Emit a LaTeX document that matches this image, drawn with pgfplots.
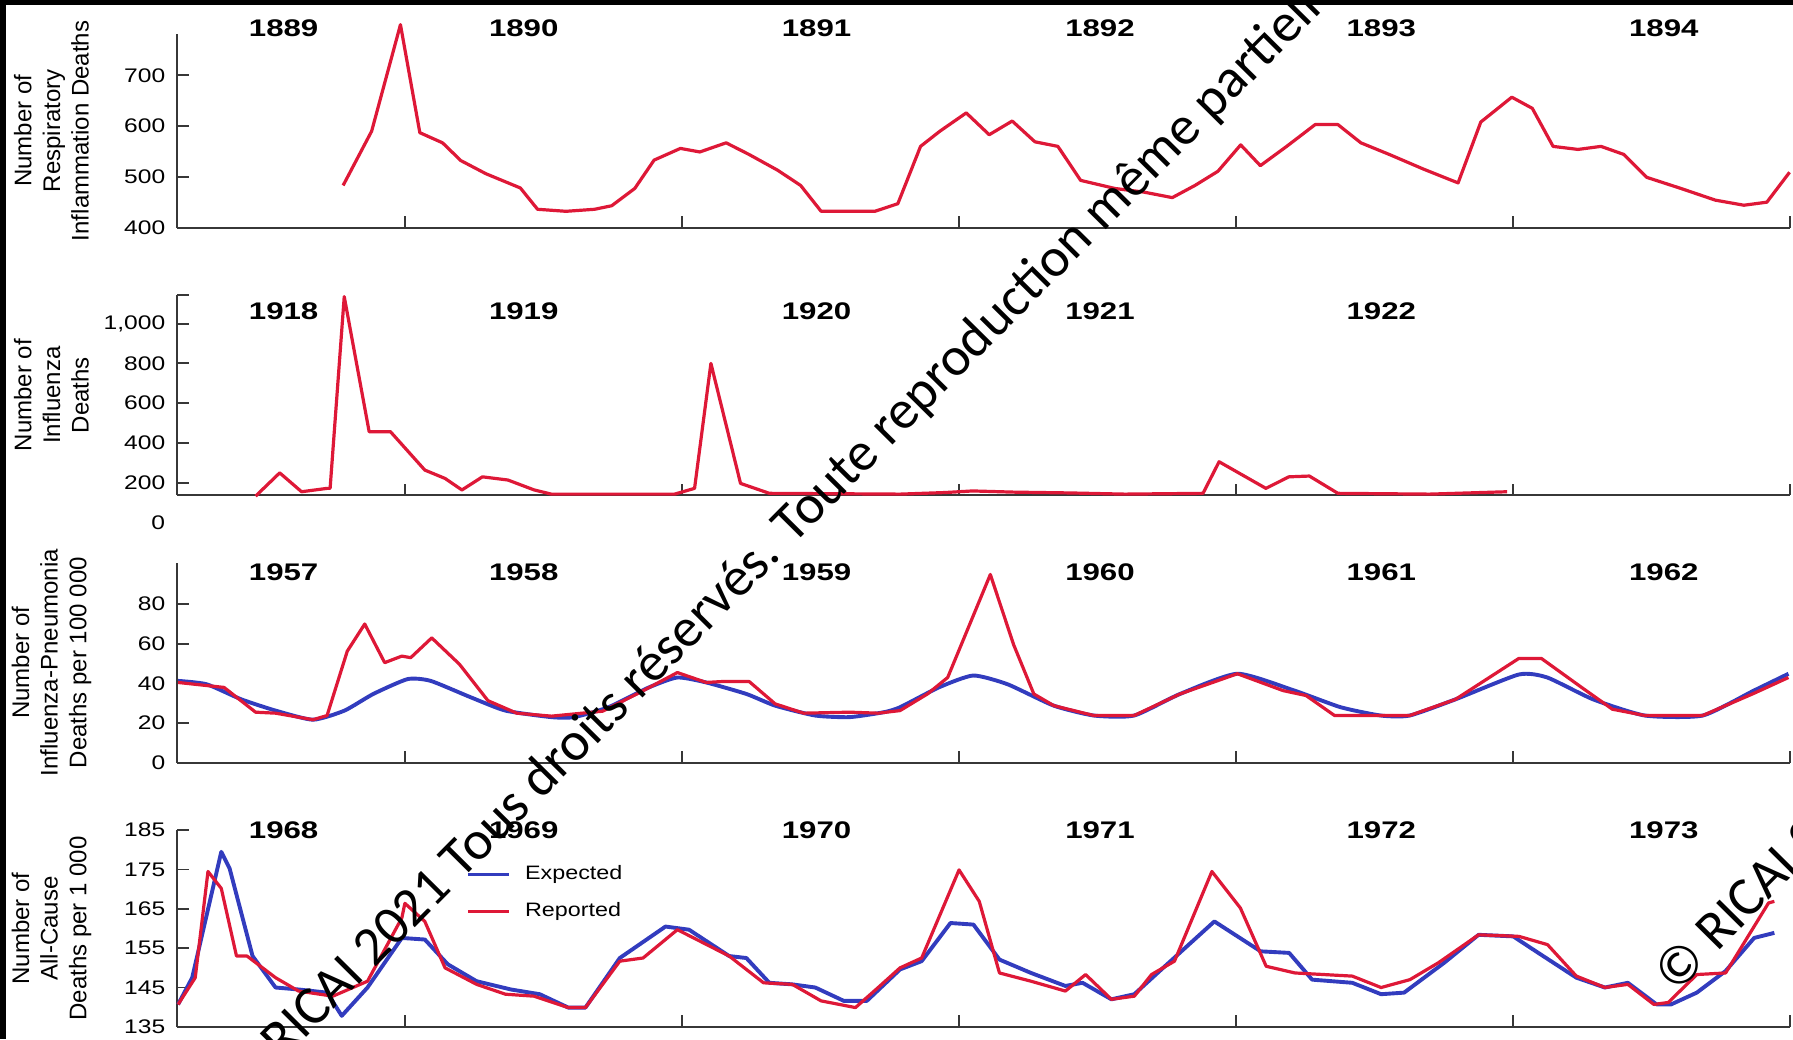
\documentclass[border=0pt]{standalone}
\usepackage{graphicx}
\usepackage{pgfplots}
\pgfplotsset{compat=1.18}
\usepackage{fontspec}
\setmainfont{Liberation Sans}
\newfontfamily\wmfont{Carlito}
\definecolor{repred}{RGB}{222,24,55}
\definecolor{expblue}{RGB}{50,60,190}
\definecolor{axgray}{RGB}{55,55,55}
\tikzset{
  yr/.style={font=\fontsize{10.5}{11}\selectfont\bfseries, xscale=1.3, anchor=center},
  redline/.style={color=repred, line width=1.4pt, line join=round},
  blueline/.style={color=expblue, line width=1.7pt, line join=round},
}
\pgfplotsset{
  panel/.style={
    scale only axis, width=705pt,
    xmin=0.178, xmax=6.0,
    axis x line=bottom, axis y line=left,
    axis line style={-, line width=0.9pt, draw=axgray},
    xtick={1,2,3,4,5,6}, xticklabels={},
    tick align=inside, major tick length=5pt,
    tick style={line width=0.8pt, draw=axgray},
    clip=false,
    /pgf/number format/assume math mode=true,
    /pgf/number format/1000 sep={,},
    yticklabel style={font=\fontsize{8.6}{9}\selectfont, xscale=1.25, inner sep=0.5pt, xshift=-3.5pt},
    ylabel style={at={(axis description cs:-0.078,0.5)}, anchor=center, align=center, font=\fontsize{10.5}{12.5}\selectfont},
  },
}
\begin{document}
\begin{tikzpicture}
\path[use as bounding box] (0,0) rectangle (784pt,454.5pt);
% Panel 1
\begin{axis}[panel, at={(77.5pt,355pt)}, anchor=south west, height=84.5pt,
  ymin=400, ymax=781, ytick={400,500,600,700},
  ylabel={Number of\\Respiratory\\Inflammation Deaths}]
\addplot[redline] coordinates {(0.777,483)(0.880,590)(0.984,800)(1.054,587)(1.136,567)(1.202,532)(1.293,506)(1.417,478)(1.479,436)(1.582,432)(1.685,436)(1.747,443)(1.830,477)(1.900,533)(1.995,556)(2.065,549)(2.160,567)(2.243,544)(2.346,513)(2.429,483)(2.503,432)(2.594,432)(2.697,432)(2.780,447)(2.862,560)(2.932,590)(3.027,626)(3.110,583)(3.193,610)(3.275,569)(3.358,560)(3.440,493)(3.564,477)(3.667,470)(3.771,459)(3.853,483)(3.936,511)(4.018,563)(4.089,522)(4.184,560)(4.287,603)(4.369,603)(4.452,567)(4.555,544)(4.679,515)(4.803,488)(4.885,608)(4.997,657)(5.071,635)(5.146,560)(5.236,554)(5.319,560)(5.402,544)(5.484,499)(5.608,477)(5.732,454)(5.835,444)(5.918,450)(6.000,509)};
\node[yr] at (axis description cs:0.066,1.03) {1889};
\node[yr] at (axis description cs:0.2149,1.03) {1890};
\node[yr] at (axis description cs:0.3965,1.03) {1891};
\node[yr] at (axis description cs:0.5723,1.03) {1892};
\node[yr] at (axis description cs:0.7468,1.03) {1893};
\node[yr] at (axis description cs:0.922,1.03) {1894};
\end{axis}
% Panel 2
\begin{axis}[panel, at={(77.5pt,238pt)}, anchor=south west, height=87.5pt,
  ymin=137, ymax=1144, ytick={200,400,600,800,1000},
  extra y ticks={1144}, extra y tick labels={},
  ylabel={Number of\\Influenza\\Deaths}]
\addplot[redline] coordinates {(0.461,132)(0.548,249)(0.627,154)(0.719,171)(0.730,171)(0.781,1136)(0.871,456)(0.948,456)(1.072,263)(1.145,221)(1.206,163)(1.280,229)(1.372,213)(1.467,163)(1.529,142)(1.974,142)(2.046,171)(2.105,800)(2.212,196)(2.316,146)(2.788,142)(2.950,150)(3.050,158)(3.200,152)(3.400,148)(3.600,142)(3.882,146)(3.940,305)(4.109,171)(4.192,229)(4.266,233)(4.369,146)(4.700,142)(4.980,154)};
\node[font=\fontsize{8.6}{9}\selectfont, xscale=1.25, inner sep=0.5pt, anchor=east] at ([xshift=-4.5pt]axis cs:0.178,0) {0};
\node[yr] at (axis description cs:0.066,0.92) {1918};
\node[yr] at (axis description cs:0.2149,0.92) {1919};
\node[yr] at (axis description cs:0.3965,0.92) {1920};
\node[yr] at (axis description cs:0.5723,0.92) {1921};
\node[yr] at (axis description cs:0.7468,0.92) {1922};
\end{axis}
% Panel 3
\begin{axis}[panel, at={(77.5pt,121pt)}, anchor=south west, height=87.5pt,
  ymin=0, ymax=101, ytick={0,20,40,60,80},
  ylabel={Number of\\Influenza-Pneumonia\\Deaths per 100 000}]
\addplot[blueline, smooth, tension=0.35] coordinates {(0.181,41.3)(0.284,39.6)(0.409,32)(0.533,26.3)(0.668,21.7)(0.782,26.3)(0.886,34.7)(1.010,42.2)(1.093,41.3)(1.238,33)(1.363,26.3)(1.529,23)(1.611,23)(1.735,28)(1.881,38)(1.984,43)(2.088,40.5)(2.233,34.7)(2.337,28.8)(2.482,23.8)(2.606,23)(2.730,25.5)(2.788,28)(2.928,38)(3.052,44)(3.176,39.6)(3.343,28.8)(3.488,23.8)(3.633,23.8)(3.799,34.7)(4.006,44.9)(4.212,36.4)(4.379,28)(4.524,23.8)(4.628,23.8)(4.794,32)(5.022,44.5)(5.125,43)(5.290,32)(5.478,23.8)(5.686,23.8)(5.871,36.4)(5.996,44.9)};
\addplot[redline] coordinates {(0.181,40.5)(0.347,38)(0.461,25.5)(0.533,25)(0.668,21.7)(0.719,23.8)(0.792,56.3)(0.855,70)(0.927,50.5)(0.989,53.8)(1.021,53)(1.097,63)(1.197,49.7)(1.300,31.3)(1.404,25)(1.529,23.5)(1.714,26)(1.838,34.7)(1.984,45.5)(2.088,40.5)(2.150,41)(2.243,41)(2.337,29.7)(2.440,25)(2.606,25.5)(2.709,25)(2.788,26.3)(2.887,34.7)(2.960,43)(3.114,95)(3.198,59.6)(3.271,34.7)(3.343,28.8)(3.488,23.8)(3.633,23.8)(3.799,34.7)(4.006,44.9)(4.171,36.4)(4.254,33.9)(4.357,23.8)(4.400,23.8)(4.524,23.8)(4.628,23.8)(4.794,32)(5.022,52.6)(5.104,52.6)(5.249,38)(5.360,27)(5.478,23.8)(5.686,23.8)(5.871,35)(5.996,43)};
\node[yr] at (axis description cs:0.066,0.954) {1957};
\node[yr] at (axis description cs:0.2149,0.954) {1958};
\node[yr] at (axis description cs:0.3965,0.954) {1959};
\node[yr] at (axis description cs:0.5723,0.954) {1960};
\node[yr] at (axis description cs:0.7468,0.954) {1961};
\node[yr] at (axis description cs:0.922,0.954) {1962};
\end{axis}
% Panel 4
\begin{axis}[panel, at={(77.5pt,5.5pt)}, anchor=south west, height=86pt,
  ymin=135, ymax=185, ytick={135,145,155,165,175,185},
  ylabel={Number of\\All-Cause\\Deaths per 1 000},
  legend style={draw=none, fill=none, at={(axis description cs:0.179,0.845)}, anchor=north west,
    font=\fontsize{8.5}{9}\selectfont, row sep=4.5pt, inner sep=0pt,
    /tikz/column 2/.style={column sep=0pt}, /tikz/every even column/.style={column sep=0pt}},
  legend cell align=left,
  legend image code/.code={\draw[#1] (0pt,0pt) -- (18pt,0pt);}]
\addplot[blueline] coordinates {(0.181,140.7)(0.232,147.5)(0.337,179.5)(0.367,175.3)(0.450,153)(0.533,145)(0.616,144.5)(0.719,143.7)(0.772,137.8)(0.865,145)(0.989,157.6)(1.072,157.2)(1.155,150.9)(1.259,146.6)(1.383,144.5)(1.487,143.3)(1.590,139.9)(1.652,139.9)(1.776,152.5)(1.941,160.5)(2.026,159.7)(2.171,153)(2.233,152.5)(2.316,146.2)(2.399,145.8)(2.482,145)(2.585,141.6)(2.668,141.6)(2.788,149.6)(2.866,151.7)(2.970,161.4)(3.053,161)(3.147,152.1)(3.261,148.7)(3.385,145.4)(3.447,146.2)(3.551,142)(3.634,143.3)(3.738,150)(3.923,161.8)(4.090,154.2)(4.193,153.8)(4.276,147)(4.421,146.2)(4.525,143.3)(4.608,143.7)(4.753,151.3)(4.877,158.4)(5.002,158)(5.084,154.2)(5.230,147.5)(5.333,145)(5.416,146.2)(5.520,140.7)(5.572,140.7)(5.665,143.7)(5.769,149.2)(5.872,157.6)(5.945,158.9)};
\addlegendentry{\hspace{4pt}\scalebox{1.2}[1]{Expected}}
\addplot[redline] coordinates {(0.181,140.7)(0.243,147.5)(0.289,174.5)(0.337,170.2)(0.392,153)(0.430,153)(0.533,147.5)(0.616,144.1)(0.740,142.8)(0.865,146.6)(0.989,162.7)(1.000,166.4)(1.072,161.8)(1.145,150)(1.259,145.8)(1.363,143.3)(1.466,142.8)(1.590,139.9)(1.652,139.9)(1.776,151.7)(1.860,152.5)(1.984,159.7)(2.171,153)(2.295,146.2)(2.399,145.8)(2.503,141.6)(2.627,139.9)(2.709,145)(2.788,150)(2.866,152.5)(3.001,174.9)(3.074,166.9)(3.147,148.7)(3.261,146.6)(3.385,144.1)(3.458,148.3)(3.551,142)(3.634,142.8)(3.696,148.3)(3.779,151.7)(3.914,174.5)(4.017,165.2)(4.110,150.4)(4.214,148.7)(4.421,147.9)(4.525,145)(4.629,147)(4.732,151.3)(4.877,158.4)(5.023,158)(5.126,155.9)(5.230,147.9)(5.333,145)(5.416,145.8)(5.510,140.7)(5.562,141.2)(5.665,148.3)(5.769,148.7)(5.924,166.5)(5.945,166.9)};
\addlegendentry{\hspace{4pt}\scalebox{1.2}[1]{Reported}}
\node[yr] at (axis description cs:0.066,1.0) {1968};
\node[yr] at (axis description cs:0.2149,1.0) {1969};
\node[yr] at (axis description cs:0.3965,1.0) {1970};
\node[yr] at (axis description cs:0.5723,1.0) {1971};
\node[yr] at (axis description cs:0.7468,1.0) {1972};
\node[yr] at (axis description cs:0.922,1.0) {1973};
\end{axis}
% frame strips
\fill[black] (0,452.3pt) rectangle (784pt,454.5pt);
\fill[black] (0,0) rectangle (2.5pt,454.5pt);
% watermark
\node[font=\wmfont\fontsize{24}{25}\selectfont, rotate=45.3, anchor=west, inner sep=0pt] at (101pt,-23.5pt) {© RICAI 2021 Tous droits réservés. Toute reproduction même partielle interdite.};
\node[font=\wmfont\fontsize{24}{25}\selectfont, rotate=45.3, anchor=west, inner sep=0pt] at (727pt,25.5pt) {© RICAI 2021 Tous droits réservés.};
\end{tikzpicture}
\end{document}
